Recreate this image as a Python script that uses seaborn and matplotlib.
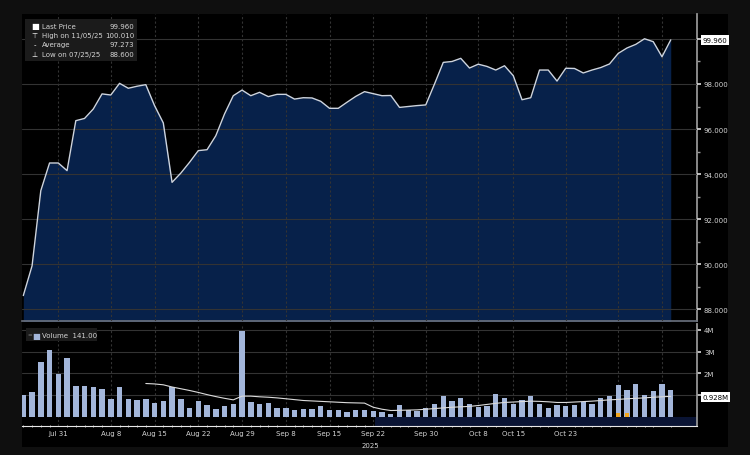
import numpy as np
import pandas as pd
import matplotlib.pyplot as plt
import seaborn as sns
from matplotlib.patches import Rectangle
from matplotlib.ticker import FixedLocator

# trading days (bond market: Labor Day and Columbus Day closed)
days = pd.bdate_range("2025-07-25", "2025-11-10", freq="C",
                      holidays=["2025-09-01", "2025-10-13"])

price = [88.60, 89.92, 93.26, 94.49, 94.49, 94.15, 96.37, 96.47, 96.89, 97.56,
         97.51, 98.03, 97.81, 97.90, 97.97, 97.04, 96.27, 93.63, 94.04, 94.52,
         95.04, 95.08, 95.70, 96.67, 97.48, 97.73, 97.48, 97.63, 97.44, 97.54,
         97.54, 97.33, 97.39, 97.38, 97.23, 96.92, 96.92, 97.19, 97.45, 97.66,
         97.57, 97.48, 97.49, 96.96, 97.00, 97.04, 97.07, 98.00, 98.96, 99.00,
         99.14, 98.71, 98.88, 98.78, 98.62, 98.81, 98.37, 97.30, 97.39, 98.62,
         98.62, 98.13, 98.70, 98.69, 98.49, 98.62, 98.73, 98.89, 99.36, 99.60,
         99.76, 100.01, 99.88, 99.21, 99.96]

# volume in millions
volume = [1.01, 1.16, 2.51, 3.09, 1.97, 2.71, 1.44, 1.44, 1.36, 1.28,
          0.83, 1.36, 0.83, 0.77, 0.83, 0.64, 0.75, 1.36, 0.83, 0.43,
          0.73, 0.55, 0.37, 0.49, 0.60, 3.93, 0.70, 0.61, 0.64, 0.43,
          0.41, 0.34, 0.37, 0.37, 0.49, 0.34, 0.31, 0.25, 0.34, 0.31,
          0.28, 0.21, 0.14, 0.55, 0.34, 0.29, 0.41, 0.61, 0.98, 0.75,
          0.86, 0.60, 0.47, 0.49, 1.04, 0.89, 0.58, 0.80, 0.95, 0.58,
          0.41, 0.55, 0.49, 0.55, 0.67, 0.58, 0.89, 0.98, 1.47, 1.24,
          1.54, 1.01, 1.21, 1.50, 1.22]

vol_avg = [np.nan] * 14 + [
    1.54, 1.52, 1.48, 1.38, 1.30, 1.22, 1.13, 1.03, 0.94, 0.86, 0.79,
    0.96, 0.96, 0.93, 0.91, 0.88, 0.84, 0.80, 0.76, 0.74, 0.72, 0.70, 0.68, 0.66, 0.65, 0.64,
    0.45, 0.36, 0.30, 0.31, 0.32, 0.33, 0.36, 0.39, 0.42, 0.45, 0.47, 0.49, 0.53, 0.58,
    0.63, 0.67, 0.69, 0.71, 0.73, 0.72, 0.70, 0.67, 0.67, 0.69, 0.71, 0.73, 0.76, 0.79,
    0.81, 0.84, 0.86, 0.88, 0.91, 0.93, 0.95]

tick_days = ["2025-07-31", "2025-08-08", "2025-08-15", "2025-08-22", "2025-08-29",
             "2025-09-08", "2025-09-15", "2025-09-22", "2025-09-30", "2025-10-08",
             "2025-10-15", "2025-10-23", "2025-10-31", "2025-11-07"]
tick_labels = ["Jul 31", "Aug 8", "Aug 15", "Aug 22", "Aug 29", "Sep 8", "Sep 15",
               "Sep 22", "Sep 30", "Oct 8", "Oct 15", "Oct 23", "", ""]
event_days = ["2025-10-31", "2025-11-03"]

legend_rows = [("\u25a0", "Last Price", "99.960"),
               ("\u22a4", "High on 11/05/25", "100.010"),
               ("-", "Average", "97.273"),
               ("\u22a5", "Low on 07/25/25", "88.600")]

df = pd.DataFrame({"day": np.arange(len(days)), "price": price,
                   "volume": volume, "vol_avg": vol_avg})
tick_pos = days.get_indexer(pd.to_datetime(tick_days))
event_pos = days.get_indexer(pd.to_datetime(event_days))

sns.set_theme(style="dark")
plt.rcParams["font.family"] = ["DejaVu Sans"]

TXT = "#d4d4d4"
GRID = "#333333"
NAVY = "#07214a"
BAR = "#a3b6da"

fig = plt.figure(figsize=(7.5, 4.56), dpi=100, facecolor="#0f0f0f")
fig.patches.append(Rectangle((22 / 750, 8 / 456), 706 / 750, 433 / 456,
                             transform=fig.transFigure, fc="black", ec="none", zorder=-10))
ax1 = fig.add_axes([22 / 750, 1 - 322 / 456, 675 / 750, 307 / 456])
ax2 = fig.add_axes([22 / 750, 1 - 427 / 456, 675 / 750, 102 / 456])

xlim = (-0.15, 77.0)

# price panel
ax1.set_facecolor("black")
ax1.fill_between(df["day"], df["price"], 87.0, color=NAVY, lw=0, zorder=1)
sns.lineplot(data=df, x="day", y="price", ax=ax1, color="#cdd4df", lw=1.0, zorder=3)
ax1.set_xlim(*xlim)
ax1.set_ylim(87.47, 101.11)
ax1.set_xticks(tick_pos, [""] * len(tick_pos))
ax1.yaxis.tick_right()
ax1.set_yticks(np.arange(88, 101, 2),
               ["88.000", "90.000", "92.000", "94.000", "96.000", "98.000", ""])
ax1.yaxis.set_minor_locator(FixedLocator(np.arange(89, 101, 2)))
ax1.tick_params(axis="y", which="major", colors=TXT, labelsize=5, length=3, pad=2, direction="out")
ax1.tick_params(axis="y", which="minor", colors="#9a9a9a", length=2, left=False, right=True)
ax1.tick_params(axis="x", length=0)
ax1.grid(axis="y", color=GRID, lw=0.8, zorder=2)
ax1.grid(axis="x", color=GRID, lw=0.8, ls=(0, (2, 2)), zorder=2)
ax1.set_axisbelow(False)
for s in ["left", "top"]:
    ax1.spines[s].set_visible(False)
ax1.spines["right"].set_color("#9a9a9a")
ax1.spines["bottom"].set_color("#6c7380")
ax1.spines["bottom"].set_linewidth(1.2)
ax1.set_xlabel("")
ax1.set_ylabel("")

ax1.annotate("99.960", xy=(1.0, 99.96), xycoords=("axes fraction", "data"),
             xytext=(4, 0), textcoords="offset points", ha="left", va="center",
             fontsize=5, color="black",
             bbox=dict(boxstyle="square,pad=0.25", fc="white", ec="none"))

# legend box
ax1.add_patch(Rectangle((0.004, 0.847), 0.166, 0.137, transform=ax1.transAxes,
                        fc="#1b1b1b", ec="none", zorder=5))
for k, (icon, name, val) in enumerate(legend_rows):
    yy = 0.961 - k * 0.030
    ax1.text(0.019, yy, icon, transform=ax1.transAxes, fontsize=5 if k else 6,
             color="white", ha="center", va="center", zorder=6)
    ax1.text(0.030, yy, name, transform=ax1.transAxes, fontsize=5,
             color=TXT, ha="left", va="center", zorder=6)
    ax1.text(0.166, yy, val, transform=ax1.transAxes, fontsize=5,
             color=TXT, ha="right", va="center", zorder=6)

# volume panel
ax2.set_facecolor("black")
sns.barplot(data=df, x="day", y="volume", ax=ax2, color=BAR, saturation=1,
            width=0.62, edgecolor="none", linewidth=0, zorder=3)
sns.lineplot(data=df, x="day", y="vol_avg", ax=ax2, color="#dcdcdc", lw=0.8, zorder=4)
ax2.scatter(event_pos, [0.1] * len(event_pos), marker="s", s=7, color="#f2a51c",
            lw=0, zorder=5)
ax2.set_xlim(*xlim)
ax2.set_ylim(-0.41, 4.27)
ax2.axhspan(-0.41, 0, xmin=0.523, xmax=1, color="#0a1434", lw=0, zorder=1)
ax2.set_xticks(tick_pos, tick_labels)
ax2.xaxis.set_minor_locator(FixedLocator(df["day"]))
ax2.tick_params(axis="x", which="major", colors=TXT, labelsize=5, length=0, pad=3)
ax2.tick_params(axis="x", which="minor", colors="white", length=1.5, width=0.5,
                direction="inout", bottom=True)
ax2.yaxis.tick_right()
ax2.set_yticks([1, 2, 3, 4], ["", "2M", "3M", "4M"])
ax2.tick_params(axis="y", colors=TXT, labelsize=5, length=3, pad=2, direction="out")
ax2.grid(axis="y", color=GRID, lw=0.8, zorder=2)
ax2.grid(axis="x", which="major", color=GRID, lw=0.8, ls=(0, (2, 2)), zorder=2)
for s in ["left", "top"]:
    ax2.spines[s].set_visible(False)
ax2.spines["right"].set_color("#9a9a9a")
ax2.spines["bottom"].set_color("#e8e8e8")
ax2.spines["bottom"].set_linewidth(0.8)
ax2.set_xlabel("")
ax2.set_ylabel("")

ax2.annotate("0.928M", xy=(1.0, 0.928), xycoords=("axes fraction", "data"),
             xytext=(4, 0), textcoords="offset points", ha="left", va="center",
             fontsize=5, color="black",
             bbox=dict(boxstyle="square,pad=0.25", fc="white", ec="none"))

ax2.add_patch(Rectangle((0.006, 0.83), 0.105, 0.13, transform=ax2.transAxes,
                        fc="#1b1b1b", ec="none", zorder=5))
ax2.text(0.012, 0.892, "=", transform=ax2.transAxes, fontsize=4, color="#888888",
         ha="center", va="center", zorder=6)
ax2.text(0.021, 0.892, "\u25a0", transform=ax2.transAxes, fontsize=6, color=BAR,
         ha="center", va="center", zorder=6)
ax2.text(0.030, 0.892, "Volume  141.00", transform=ax2.transAxes, fontsize=5,
         color=TXT, ha="left", va="center", zorder=6)

fig.text(370 / 750, 1 - 446 / 456, "2025", fontsize=5, color=TXT, ha="center", va="center")

fig.savefig("out.png", dpi=100, facecolor=fig.get_facecolor())
